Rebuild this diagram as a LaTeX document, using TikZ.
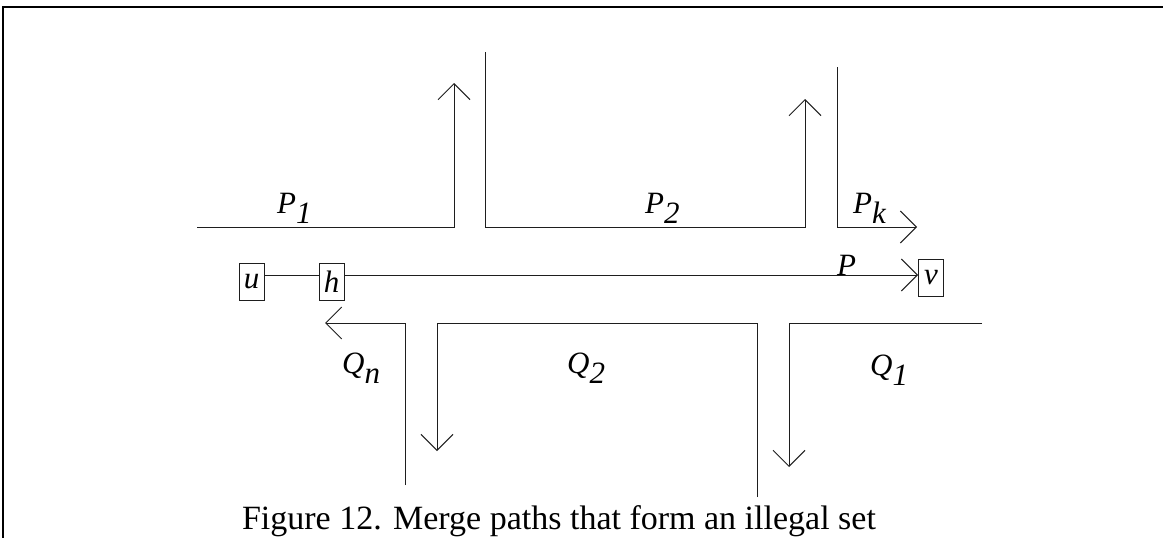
\documentclass[tikz,border=0pt]{standalone}
\usepackage{fontspec}
\setmainfont{Liberation Serif}
\usetikzlibrary{arrows.meta}
\definecolor{linecolor}{RGB}{30,30,30}
\newcommand{\lowsub}[1]{\raisebox{-0.34em}{#1}}

\begin{document}
\begin{tikzpicture}[x=1pt, y=-1pt]
    % Define the styles for the vertices, the paths and the labels
    \tikzstyle{vertex} = [draw=linecolor, line width=0.8pt, minimum width=25pt, minimum height=37pt, inner sep=0pt, font=\fontsize{31}{36}\selectfont\itshape]
    \tikzstyle{mergepath} = [draw=linecolor, line width=1pt, -{Straight Barb[length=16pt, width=32pt, line width=1pt]}]
    \tikzstyle{plainpath} = [draw=linecolor, line width=1pt]
    \tikzstyle{pathlabel} = [anchor=base west, inner sep=0pt, font=\fontsize{31}{36}\selectfont\itshape]

    \useasboundingbox (0,0) rectangle (1163,538);

    % Frame (top and left edges only)
    \draw[line width=2.5pt] (2,7) -- (1163,7);
    \draw[line width=1.5pt] (3,7) -- (3,538);

    % Vertices on the path P
    \node[vertex] (u) at (251.5,281.5) {u};
    \node[vertex] (h) at (331.5,281.5) {h};
    \node[vertex] (v) at (931,278) {v};

    % Path P from u through h to v
    \draw[plainpath] ([yshift=6.5pt]u.east) -- ([yshift=6.5pt]h.west);
    \draw[mergepath] ([yshift=6.5pt]h.east) -- ([yshift=3pt]v.west);
    \node[pathlabel] (labelP) at (837,275) {P};

    % Merge paths above P
    \coordinate (p1start) at (197,227);
    \coordinate (p1end) at (454,83);
    \draw[mergepath] (p1start) -| (p1end);
    \coordinate (p2start) at (485,52);
    \coordinate (p2end) at (805,99);
    \draw[mergepath] (p2start) |- (805,227) -- (p2end);
    \coordinate (pkstart) at (837,67);
    \coordinate (pkend) at (917,227);
    \draw[mergepath] (pkstart) |- (pkend);

    \node[pathlabel] (labelP1) at (277,213) {P\lowsub{1}};
    \node[pathlabel] (labelP2) at (645,213) {P\lowsub{2}};
    \node[pathlabel] (labelPk) at (853,213) {P\lowsub{k}};

    % Merge paths below P
    \coordinate (q1start) at (982,323);
    \coordinate (q1end) at (789,467);
    \draw[mergepath] (q1start) -| (q1end);
    \coordinate (q2start) at (757,497);
    \coordinate (q2end) at (437,451);
    \draw[mergepath] (q2start) |- (437,323) -- (q2end);
    \coordinate (qnstart) at (405,485);
    \coordinate (qnend) at (325,323);
    \draw[mergepath] (qnstart) |- (qnend);

    \node[pathlabel] (labelQn) at (342,373) {Q\lowsub{n}};
    \node[pathlabel] (labelQ2) at (567,373) {Q\lowsub{2}};
    \node[pathlabel] (labelQ1) at (870,375) {Q\lowsub{1}};

    % Caption
    \node[anchor=base, inner sep=0pt, font=\fontsize{34}{40}\selectfont] (caption) at (559,529) {Figure 12. Merge paths that form an illegal set};
\end{tikzpicture}
\end{document}
